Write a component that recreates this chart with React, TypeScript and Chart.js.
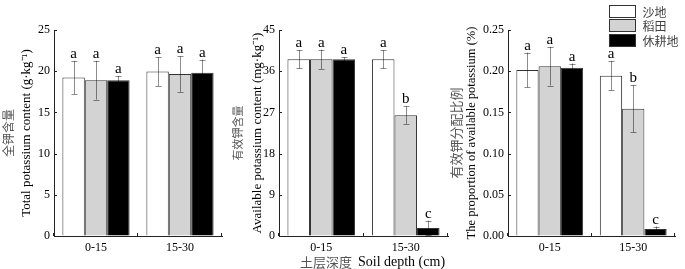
import React, { useEffect, useRef } from 'react';
import { Chart, registerables } from 'chart.js';

Chart.register(...registerables);

// ---------- data ----------
const categories = ['0-15', '15-30'];
const seriesNames = ['沙地', '稻田', '休耕地'];
const seriesFill = ['#ffffff', '#d3d3d3', '#000000'];

// Total potassium content (g·kg-1)
const totalKSand = [19.25, 19.95];
const totalKPaddy = [18.9, 19.65];
const totalKFallow = [18.9, 19.8];
const totalKSandErr = [2.0, 1.75];
const totalKPaddyErr = [2.35, 2.15];
const totalKFallowErr = [0.5, 1.6];
const totalKSandLetters = ['a', 'a'];
const totalKPaddyLetters = ['a', 'a'];
const totalKFallowLetters = ['a', 'a'];
const totalKTicks = [0, 5, 10, 15, 20, 25];

// Available potassium content (mg·kg-1)
const availKSand = [38.6, 38.6];
const availKPaddy = [38.6, 26.4];
const availKFallow = [38.6, 1.75];
const availKSandErr = [2.0, 2.0];
const availKPaddyErr = [2.1, 1.9];
const availKFallowErr = [0.45, 1.6];
const availKSandLetters = ['a', 'a'];
const availKPaddyLetters = ['a', 'b'];
const availKFallowLetters = ['a', 'c'];
const availKTicks = [0, 9, 18, 27, 36, 45];

// Proportion of available potassium (%)
const ratioSand = [0.2015, 0.1946];
const ratioPaddy = [0.206, 0.1545];
const ratioFallow = [0.2043, 0.0085];
const ratioSandErr = [0.021, 0.018];
const ratioPaddyErr = [0.0235, 0.0288];
const ratioFallowErr = [0.005, 0.003];
const ratioSandLetters = ['a', 'a'];
const ratioPaddyLetters = ['a', 'b'];
const ratioFallowLetters = ['a', 'c'];
const ratioTicks = [0, 0.05, 0.1, 0.15, 0.2, 0.25];

// ---------- layout / style ----------
const W = 685;
const H = 269;
const SERIF = '"Liberation Serif", "Times New Roman", serif';
const CJK = '"Noto Sans CJK SC", sans-serif';
const AXIS = '#222';

const panels = [
  {
    values: [totalKSand, totalKPaddy, totalKFallow],
    errs: [totalKSandErr, totalKPaddyErr, totalKFallowErr],
    letters: [totalKSandLetters, totalKPaddyLetters, totalKFallowLetters],
    ticks: totalKTicks, decimals: 0,
    left: 54, right: 222,
    titleCn: '全钾含量', titleEn: 'Total potassium content (g·kg⁻¹)',
    cnX: 8, enX: 27, cnSize: 12, enSize: 13,
    xTitle: false, legend: false,
  },
  {
    values: [availKSand, availKPaddy, availKFallow],
    errs: [availKSandErr, availKPaddyErr, availKFallowErr],
    letters: [availKSandLetters, availKPaddyLetters, availKFallowLetters],
    ticks: availKTicks, decimals: 0,
    left: 279, right: 448,
    titleCn: '有效钾含量', titleEn: 'Available potassium content (mg·kg⁻¹)',
    cnX: 238, enX: 258, cnSize: 11, enSize: 13,
    xTitle: true, legend: false,
  },
  {
    values: [ratioSand, ratioPaddy, ratioFallow],
    errs: [ratioSandErr, ratioPaddyErr, ratioFallowErr],
    letters: [ratioSandLetters, ratioPaddyLetters, ratioFallowLetters],
    ticks: ratioTicks, decimals: 2,
    left: 508, right: 675,
    titleCn: '有效钾分配比例', titleEn: 'The proportion of available potassium (%)',
    cnX: 456, enX: 472, cnSize: 13, enSize: 12.5,
    xTitle: false, legend: true,
  },
];

const overlayPlugin = {
  id: 'overlay',
  afterDatasetsDraw(chart: any, _args: any, opts: any) {
    const ctx: CanvasRenderingContext2D = chart.ctx;
    const ys = chart.scales.y;
    const xs = chart.scales.x;
    const ca = chart.chartArea;
    ctx.save();
    // error bars + letters
    chart.data.datasets.forEach((ds: any, i: number) => {
      const meta = chart.getDatasetMeta(i);
      meta.data.forEach((bar: any, j: number) => {
        const v = ds.data[j];
        const e = opts.errs[i][j];
        const yt = ys.getPixelForValue(v + e);
        const yb = ys.getPixelForValue(v - e);
        const x = Math.round(bar.x) + 0.5;
        ctx.strokeStyle = 'rgba(0,0,0,0.45)';
        ctx.lineWidth = 1;
        ctx.beginPath();
        ctx.moveTo(x, yt);
        ctx.lineTo(x, yb);
        ctx.moveTo(x - 3, Math.round(yt) + 0.5);
        ctx.lineTo(x + 3, Math.round(yt) + 0.5);
        ctx.moveTo(x - 3, Math.round(yb) + 0.5);
        ctx.lineTo(x + 3, Math.round(yb) + 0.5);
        ctx.stroke();
        ctx.fillStyle = '#000';
        ctx.font = `15px ${SERIF}`;
        ctx.textAlign = 'center';
        ctx.textBaseline = 'alphabetic';
        ctx.fillText(opts.letters[i][j], bar.x, yt - 3);
      });
    });
    // inward ticks
    ctx.strokeStyle = AXIS;
    ctx.lineWidth = 1;
    ctx.beginPath();
    ys.ticks.forEach((t: any) => {
      const py = Math.round(ys.getPixelForValue(t.value)) + 0.5;
      ctx.moveTo(ca.left, py);
      ctx.lineTo(ca.left + 3, py);
    });
    const n = xs.ticks.length;
    const bounds: number[] = [xs.left];
    for (let k = 0; k < n - 1; k++) {
      bounds.push((xs.getPixelForTick(k) + xs.getPixelForTick(k + 1)) / 2);
    }
    bounds.push(xs.right);
    bounds.forEach((bx) => {
      const px = Math.round(bx) - 0.5;
      ctx.moveTo(px, ca.bottom);
      ctx.lineTo(px, ca.bottom - 3);
    });
    ctx.stroke();

    // y titles
    const cy = (ca.top + ca.bottom) / 2;
    const drawRot = (text: string, x: number, font: string, color: string) => {
      ctx.save();
      ctx.translate(x, cy);
      ctx.rotate(-Math.PI / 2);
      ctx.font = font;
      ctx.fillStyle = color;
      ctx.textAlign = 'center';
      ctx.textBaseline = 'middle';
      ctx.fillText(text, 0, 0);
      ctx.restore();
    };
    drawRot(opts.titleCn, opts.cnX, `${opts.cnSize}px ${CJK}`, '#555');
    drawRot(opts.titleEn, opts.enX, `${opts.enSize}px ${SERIF}`, '#000');

    // x title
    if (opts.xTitle) {
      const cn = '土层深度';
      const en = 'Soil depth (cm)';
      ctx.textBaseline = 'middle';
      ctx.textAlign = 'left';
      ctx.font = `13px ${CJK}`;
      const wCn = ctx.measureText(cn).width;
      ctx.font = `14px ${SERIF}`;
      const wEn = ctx.measureText(en).width;
      const gap = 6;
      const total = wCn + gap + wEn;
      const cx = (ca.left + ca.right) / 2 + 9;
      const x0 = cx - total / 2;
      const ty = 262;
      ctx.font = `13px ${CJK}`;
      ctx.fillStyle = '#555';
      ctx.fillText(cn, x0, ty);
      ctx.font = `14px ${SERIF}`;
      ctx.fillStyle = '#000';
      ctx.fillText(en, x0 + wCn + gap, ty);
    }

    // legend
    if (opts.legend) {
      const lx = 609.5;
      const ly = 4.5;
      const bw = 26;
      const bh = 12;
      const rh = 14.5;
      seriesNames.forEach((name, k) => {
        const top = Math.round(ly + k * rh) + 0.5;
        ctx.fillStyle = seriesFill[k];
        ctx.fillRect(lx, top, bw, bh);
        ctx.strokeStyle = '#333';
        ctx.lineWidth = 1;
        ctx.strokeRect(lx, top, bw, bh);
        ctx.fillStyle = '#444';
        ctx.font = `12px ${CJK}`;
        ctx.textAlign = 'left';
        ctx.textBaseline = 'middle';
        ctx.fillText(name, lx + bw + 7, top + bh / 2 + 0.5);
      });
    }
    ctx.restore();
  },
};

function Panel({ p }: { p: any }) {
  const ref = useRef<HTMLCanvasElement>(null);
  useEffect(() => {
    if (!ref.current) return;
    const fontTick = { family: SERIF, size: 12 };
    const chart = new Chart(ref.current, {
      type: 'bar',
      data: {
        labels: categories,
        datasets: seriesNames.map((name, i) => ({
          label: name,
          data: p.values[i],
          backgroundColor: seriesFill[i],
          borderColor: '#333',
          borderWidth: 1,
          categoryPercentage: 0.8,
          barPercentage: 1.0,
        })),
      },
      options: {
        responsive: false,
        animation: false,
        events: [],
        layout: {
          autoPadding: false,
          padding: { left: p.left - 30, right: W - p.right, top: 30, bottom: 0 },
        },
        plugins: {
          legend: { display: false },
          tooltip: { enabled: false },
          // @ts-ignore
          overlay: {
            errs: p.errs,
            letters: p.letters,
            titleCn: p.titleCn,
            titleEn: p.titleEn,
            cnX: p.cnX,
            enX: p.enX,
            cnSize: p.cnSize,
            enSize: p.enSize,
            xTitle: p.xTitle,
            legend: p.legend,
          },
        },
        scales: {
          x: {
            type: 'category',
            offset: true,
            grid: { display: true, drawOnChartArea: false, drawTicks: false, offset: true },
            border: { display: true, color: AXIS, width: 1 },
            ticks: { color: '#000', font: fontTick, padding: 5, maxRotation: 0 },
            afterFit: (s: any) => { s.height = 33; },
          },
          y: {
            min: p.ticks[0],
            max: p.ticks[p.ticks.length - 1],
            afterBuildTicks: (s: any) => { s.ticks = p.ticks.map((v: number) => ({ value: v })); },
            grid: { display: true, drawOnChartArea: false, drawTicks: false },
            border: { display: true, color: AXIS, width: 1 },
            ticks: {
              color: '#000',
              font: fontTick,
              padding: 4,
              callback: (v: any) => Number(v).toFixed(p.decimals),
            },
            afterFit: (s: any) => { s.width = 30; },
          },
        },
      },
      plugins: [overlayPlugin],
    } as any);
    return () => chart.destroy();
  }, [p]);
  return (
    <canvas
      ref={ref}
      width={W}
      height={H}
      style={{ position: 'absolute', left: 0, top: 0, width: W, height: H }}
    />
  );
}

export default function App() {
  return (
    <div style={{ position: 'fixed', left: 0, top: 0, width: W, height: H, background: '#fff' }}>
      {panels.map((p, i) => (
        <Panel key={i} p={p} />
      ))}
    </div>
  );
}
